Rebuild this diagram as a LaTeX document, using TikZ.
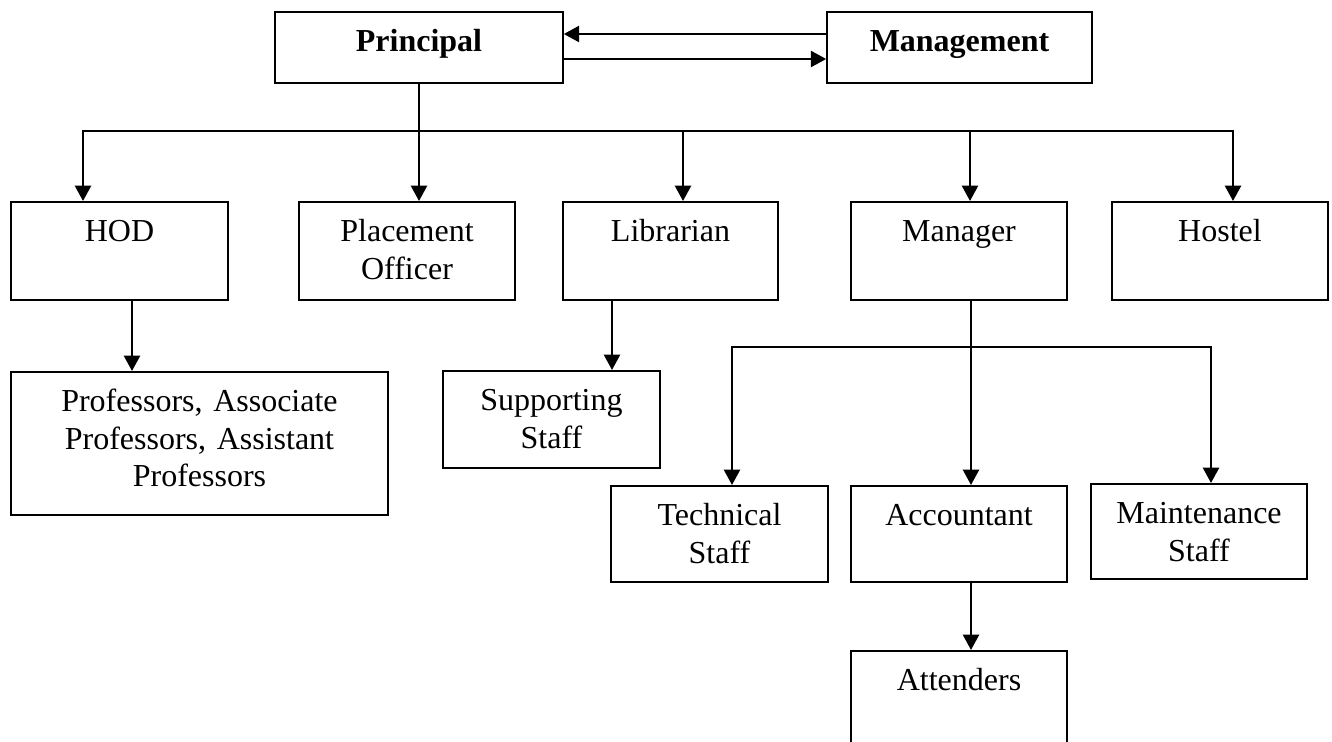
\documentclass[tikz,border=0pt]{standalone}
\usepackage{fontspec}
\setmainfont{Liberation Serif}
\usetikzlibrary{arrows.meta}

\tikzset{every picture/.style={line width=0.75pt}}
\tikzset{
  orgbox/.style={draw, line width=1.2pt, anchor=north, inner sep=0pt, align=center,
    font=\fontsize{24pt}{28pt}\selectfont, text height=30pt},
  link/.style={line width=1.8pt},
  linkarrow/.style={link, -{Triangle[width=12pt,length=11.5pt]}}
}

\begin{document}
\begin{tikzpicture}[x=0.75pt,y=0.75pt,yscale=-1,xscale=1]
\useasboundingbox (0,0) rectangle (1332,742);
\clip (0,0) rectangle (1332,742);

%Shape: Rectangle [Principal, Management]
\node[orgbox, minimum width=216pt, text width=200pt, text depth=23.25pt] (principal) at (419,11) {\textbf{Principal}};
\node[orgbox, minimum width=198.75pt, text width=190pt, text depth=23.25pt] (management) at (959.5,11) {\textbf{Management}};

%Shape: Rectangle [second row]
\node[orgbox, minimum width=162.75pt, text width=150pt, text depth=43.5pt] (hod) at (119.5,201) {HOD};
\node[orgbox, minimum width=162pt, text width=150pt, text depth=43.5pt] (placement) at (407,201) {Placement\\Officer};
\node[orgbox, minimum width=161.25pt, text width=150pt, text depth=43.5pt] (librarian) at (670.5,201) {Librarian};
\node[orgbox, minimum width=162pt, text width=150pt, text depth=43.5pt] (manager) at (959,201) {Manager};
\node[orgbox, minimum width=162pt, text width=150pt, text depth=43.5pt] (hostel) at (1220,201) {Hostel};

%Shape: Rectangle [third row]
\node[orgbox, minimum width=282.75pt, text width=270pt, text depth=77.25pt] (staff) at (199.5,371) {Professors, Associate\\Professors, Assistant\\Professors};
\node[orgbox, minimum width=162.75pt, text width=150pt, text depth=42.75pt] (support) at (551.5,370) {Supporting\\Staff};
\node[orgbox, minimum width=162.75pt, text width=150pt, text depth=42pt] (technical) at (719.5,485) {Technical\\Staff};
\node[orgbox, minimum width=162pt, text width=150pt, text depth=42pt] (accountant) at (959,485) {Accountant};
\node[orgbox, minimum width=162pt, text width=150pt, text depth=41.25pt] (maintenance) at (1199,483) {Maintenance\\Staff};
\node[orgbox, minimum width=162pt, text width=150pt, text depth=52.5pt] (attenders) at (959,650) {Attenders};

%Coordinates for the lines
\coordinate (upper) at (700,34);
\coordinate (lower) at (700,59);
\coordinate (busL) at (83,131);
\coordinate (busR) at (1233,131);
\coordinate (libDrop) at (683,131);
\coordinate (mgrDrop) at (970,131);
\coordinate (hodX) at (132,0);
\coordinate (libX) at (612,0);
\coordinate (mgrX) at (971,347);
\coordinate (subL) at (732,347);
\coordinate (subR) at (1211,347);

%Straight Lines [Principal <-> Management]
\draw[linkarrow] (management.west |- upper) -- (principal.east |- upper);
\draw[linkarrow] (principal.east |- lower) -- (management.west |- lower);

%Straight Lines [Principal to second row]
\draw[link] (principal.south) -- (principal.south |- busL);
\draw[linkarrow] (busR) -- (busL) -- (busL |- hod.north);
\draw[linkarrow] (busL) -- (busR) -- (busR |- hostel.north);
\draw[linkarrow] (principal.south |- busL) -- (principal.south |- placement.north);
\draw[linkarrow] (libDrop) -- (libDrop |- librarian.north);
\draw[linkarrow] (mgrDrop) -- (mgrDrop |- manager.north);

%Straight Lines [HOD, Librarian]
\draw[linkarrow] (hod.south -| hodX) -- (staff.north -| hodX);
\draw[linkarrow] (librarian.south -| libX) -- (support.north -| libX);

%Straight Lines [Manager]
\draw[linkarrow] (manager.south -| mgrX) -- (accountant.north -| mgrX);
\draw[linkarrow] (subR) -- (subL) -- (subL |- technical.north);
\draw[linkarrow] (subL) -- (subR) -- (subR |- maintenance.north);
\draw[linkarrow] (accountant.south -| mgrX) -- (attenders.north -| mgrX);

\end{tikzpicture}
\end{document}
